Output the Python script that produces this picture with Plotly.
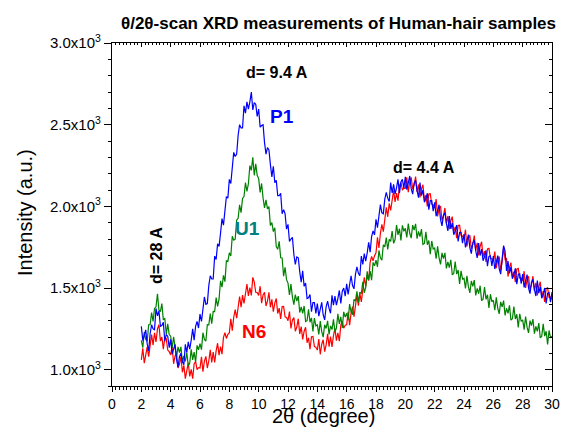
import plotly.graph_objects as go

# 2-theta grid (degree), 0.1 step from 2.0 to 30.0
two_theta = [round(2.0 + 0.1 * i, 1) for i in range(281)]

P1 = [
 1265, 1178, 1211, 1244, 1157, 1115, 1220, 1275, 1250, 1245,
 1375, 1330, 1360, 1265, 1270, 1290, 1175, 1215, 1205, 1135,
 1185, 1095, 1125, 1155, 1065, 1015, 1080, 1100, 1050, 1030,
 1155, 1105, 1170, 1125, 1180, 1250, 1180, 1265, 1295, 1255,
 1340, 1295, 1370, 1445, 1400, 1405, 1515, 1575, 1555, 1555,
 1695, 1675, 1770, 1755, 1835, 1925, 1885, 2000, 2060, 2050,
 2165, 2140, 2235, 2330, 2305, 2320, 2435, 2500, 2480, 2480,
 2615, 2570, 2640, 2595, 2640, 2700, 2590, 2635, 2625, 2550,
 2595, 2485, 2495, 2500, 2390, 2320, 2360, 2345, 2255, 2180,
 2245, 2145, 2160, 2065, 2065, 2080, 1955, 1980, 1955, 1860,
 1890, 1785, 1800, 1810, 1705, 1645, 1690, 1685, 1600, 1535,
 1605, 1510, 1530, 1435, 1440, 1460, 1355, 1410, 1410, 1345,
 1405, 1328, 1370, 1412, 1335, 1305, 1385, 1420, 1375, 1345,
 1455, 1395, 1450, 1395, 1435, 1485, 1405, 1480, 1500, 1450,
 1525, 1460, 1520, 1575, 1515, 1495, 1585, 1630, 1590, 1575,
 1695, 1645, 1710, 1665, 1715, 1780, 1720, 1815, 1850, 1825,
 1920, 1870, 1940, 2010, 1960, 1955, 2045, 2085, 2050, 2030,
 2145, 2082, 2134, 2076, 2113, 2165, 2080, 2150, 2165, 2112,
 2180, 2102, 2144, 2186, 2108, 2075, 2142, 2159, 2096, 2053,
 2145, 2065, 2100, 2025, 2045, 2080, 1980, 2035, 2035, 1970,
 2025, 1940, 1975, 2010, 1920, 1880, 1945, 1960, 1895, 1850,
 1940, 1862, 1899, 1826, 1848, 1885, 1785, 1840, 1840, 1775,
 1830, 1749, 1788, 1827, 1746, 1710, 1776, 1792, 1728, 1684,
 1775, 1699, 1738, 1667, 1691, 1730, 1634, 1693, 1697, 1636,
 1695, 1616, 1657, 1698, 1619, 1585, 1680, 1760, 1725, 1605,
 1665, 1589, 1628, 1557, 1581, 1620, 1524, 1583, 1587, 1526,
 1585, 1504, 1543, 1582, 1501, 1465, 1534, 1553, 1492, 1451,
 1545, 1469, 1508, 1437, 1461, 1500, 1406, 1467, 1473, 1414,
 1475]

N6 = [
 1060, 1130, 1040, 1105, 1140, 1080, 1135, 1215, 1150, 1225,
 1170, 1250, 1275, 1175, 1200, 1125, 1195, 1190, 1120, 1110,
 1090, 1143, 1036, 1084, 1097, 1010, 1033, 1081, 984, 1027,
 945, 1005, 1042, 959, 1002, 945, 1035, 1050, 1000, 1012,
 1010, 1079, 988, 1052, 1081, 1010, 1053, 1121, 1044, 1107,
 1045, 1115, 1162, 1089, 1141, 1095, 1198, 1226, 1191, 1216,
 1225, 1312, 1239, 1321, 1368, 1315, 1369, 1448, 1382, 1456,
 1405, 1477, 1524, 1451, 1503, 1455, 1565, 1536, 1474, 1472,
 1455, 1511, 1407, 1458, 1474, 1390, 1419, 1473, 1382, 1431,
 1355, 1408, 1436, 1344, 1377, 1310, 1386, 1387, 1323, 1319,
 1300, 1356, 1252, 1303, 1319, 1235, 1261, 1312, 1218, 1264,
 1185, 1235, 1260, 1165, 1195, 1125, 1202, 1204, 1141, 1138,
 1120, 1187, 1094, 1156, 1183, 1110, 1152, 1219, 1141, 1203,
 1140, 1209, 1253, 1177, 1226, 1175, 1273, 1296, 1254, 1272,
 1275, 1354, 1273, 1347, 1386, 1325, 1379, 1458, 1392, 1466,
 1415, 1503, 1566, 1509, 1577, 1545, 1657, 1694, 1666, 1698,
 1715, 1810, 1745, 1835, 1890, 1845, 1907, 1994, 1936, 2018,
 1975, 2049, 2098, 2027, 2081, 2035, 2128, 2146, 2099, 2112,
 2110, 2178, 2086, 2149, 2177, 2105, 2131, 2182, 2088, 2134,
 2055, 2106, 2132, 2038, 2069, 2000, 2076, 2077, 2013, 2009,
 1990, 2044, 1938, 1987, 2001, 1915, 1940, 1990, 1895, 1940,
 1860, 1911, 1937, 1843, 1874, 1805, 1882, 1884, 1821, 1818,
 1800, 1857, 1754, 1806, 1823, 1740, 1768, 1821, 1729, 1777,
 1700, 1754, 1783, 1692, 1726, 1660, 1739, 1743, 1682, 1681,
 1665, 1723, 1621, 1674, 1692, 1610, 1660, 1750, 1675, 1680,
 1570, 1625, 1655, 1565, 1600, 1535, 1615, 1620, 1560, 1560,
 1545, 1603, 1501, 1554, 1572, 1490, 1519, 1573, 1482, 1531,
 1455, 1509, 1538, 1447, 1481, 1415, 1496, 1502, 1443, 1444,
 1430]

U1 = [
 1180, 1135, 1230, 1185, 1175, 1275, 1275, 1350, 1295, 1375,
 1385, 1465, 1365, 1355, 1405, 1305, 1315, 1215, 1280, 1215,
 1205, 1133, 1201, 1124, 1077, 1140, 1105, 1140, 1045, 1085,
 1050, 1105, 1022, 1040, 1125, 1060, 1108, 1046, 1149, 1122,
 1160, 1123, 1226, 1185, 1175, 1275, 1274, 1343, 1282, 1356,
 1355, 1441, 1387, 1433, 1544, 1505, 1577, 1539, 1666, 1663,
 1715, 1696, 1817, 1793, 1799, 1915, 1927, 2009, 1961, 2048,
 2060, 2146, 2092, 2138, 2249, 2220, 2300, 2190, 2260, 2190,
 2170, 2085, 2140, 2050, 1990, 2040, 1984, 1998, 1882, 1901,
 1845, 1869, 1753, 1737, 1786, 1685, 1684, 1573, 1627, 1551,
 1530, 1457, 1524, 1446, 1398, 1460, 1420, 1450, 1350, 1385,
 1345, 1390, 1295, 1300, 1370, 1290, 1317, 1234, 1316, 1268,
 1275, 1216, 1297, 1233, 1199, 1275, 1252, 1299, 1216, 1268,
 1245, 1308, 1231, 1254, 1342, 1280, 1323, 1256, 1354, 1322,
 1345, 1303, 1401, 1354, 1337, 1430, 1420, 1480, 1410, 1475,
 1465, 1538, 1471, 1504, 1602, 1550, 1604, 1548, 1657, 1636,
 1670, 1630, 1730, 1685, 1670, 1765, 1752, 1809, 1736, 1798,
 1785, 1849, 1773, 1797, 1886, 1825, 1863, 1791, 1884, 1847,
 1865, 1810, 1895, 1835, 1805, 1885, 1854, 1893, 1802, 1846,
 1815, 1861, 1767, 1773, 1844, 1765, 1791, 1707, 1788, 1739,
 1745, 1680, 1755, 1685, 1645, 1715, 1680, 1715, 1620, 1660,
 1625, 1673, 1581, 1589, 1662, 1585, 1610, 1525, 1605, 1555,
 1560, 1498, 1575, 1508, 1470, 1543, 1510, 1548, 1455, 1498,
 1465, 1514, 1423, 1432, 1506, 1430, 1459, 1378, 1462, 1416,
 1425, 1364, 1443, 1377, 1341, 1415, 1384, 1423, 1332, 1376,
 1345, 1394, 1303, 1312, 1386, 1310, 1339, 1258, 1342, 1296,
 1305, 1245, 1325, 1260, 1225, 1300, 1270, 1310, 1220, 1265,
 1235, 1285, 1195, 1205, 1280, 1205, 1235, 1155, 1240, 1195,
 1205]

y_tickvals = [1000, 1500, 2000, 2500, 3000]
y_ticktext = ["1.0x10<sup>3</sup>", "1.5x10<sup>3</sup>", "2.0x10<sup>3</sup>",
              "2.5x10<sup>3</sup>", "3.0x10<sup>3</sup>"]

FONT = "Liberation Sans, Arial, sans-serif"

fig = go.Figure()
fig.add_trace(go.Scatter(x=two_theta, y=N6, mode="lines", name="N6",
                         line=dict(color="#FF0000", width=1.2)))
fig.add_trace(go.Scatter(x=two_theta, y=U1, mode="lines", name="U1",
                         line=dict(color="#008000", width=1.2)))
fig.add_trace(go.Scatter(x=two_theta, y=P1, mode="lines", name="P1",
                         line=dict(color="#0000FF", width=1.2)))

axis_common = dict(showline=True, linecolor="black", linewidth=1.3,
                   showgrid=False, zeroline=False, tickcolor="black")

fig.update_layout(
    width=573, height=428,
    margin=dict(l=112, r=21, t=43, b=42),
    paper_bgcolor="white", plot_bgcolor="white",
    showlegend=False,
    font=dict(family=FONT, color="black"),
    xaxis=dict(range=[0, 30], dtick=2, tick0=0, ticks="outside", ticklen=5,
               tickfont=dict(size=14, family=FONT),
               minor=dict(dtick=0.25, ticks="outside", ticklen=3, tickcolor="black"),
               **axis_common),
    yaxis=dict(range=[900, 3000], tickvals=y_tickvals, ticktext=y_ticktext,
               ticks="outside", ticklen=7,
               tickfont=dict(size=15, family=FONT),
               minor=dict(tickvals=list(range(900, 3001, 100)), ticks="outside",
                          ticklen=3, tickcolor="black"),
               **axis_common),
    xaxis2=dict(range=[0, 30], dtick=2, tick0=0, overlaying="x", side="top",
                ticks="inside", ticklen=4, showticklabels=False,
                minor=dict(dtick=0.25, ticks="inside", ticklen=2, tickcolor="black"),
                **axis_common),
    yaxis2=dict(range=[900, 3000], tickvals=y_tickvals, overlaying="y", side="right",
                ticks="inside", ticklen=7, showticklabels=False,
                minor=dict(tickvals=list(range(900, 3001, 100)), ticks="inside",
                           ticklen=3, tickcolor="black"),
                **axis_common),
)

# Empty trace so the mirrored frame axes are rendered
fig.add_trace(go.Scatter(x=[None], y=[None], xaxis="x2", yaxis="y2",
                         showlegend=False, hoverinfo="skip"))

def px_x(p):
    return (p - 112) / 440.0

def px_y(p):
    return (386 - p) / 343.0

ann = []
ann.append(dict(text="<b>θ/2θ-scan XRD measurements of Human-hair samples</b>",
                xref="paper", yref="paper", x=px_x(338), y=px_y(24),
                showarrow=False, font=dict(size=17, family=FONT, color="black"),
                xanchor="center", yanchor="middle"))
ann.append(dict(text="Intensity (a.u.)", xref="paper", yref="paper",
                x=px_x(25), y=px_y(213), textangle=-90, showarrow=False,
                font=dict(size=20, family=FONT, color="black"),
                xanchor="center", yanchor="middle"))
ann.append(dict(text="2θ (degree)", xref="paper", yref="paper",
                x=px_x(323), y=px_y(416), showarrow=False, borderpad=0,
                font=dict(size=20, family=FONT, color="black"),
                xanchor="center", yanchor="middle"))

labels = [
    ("<b>d= 9.4 A</b>", 277, 73, "black", 16, 0),
    ("<b>d= 4.4 A</b>", 424, 167, "black", 16, 0),
    ("<b>d= 28 A</b>", 156, 256, "black", 16, -90),
    ("<b>P1</b>", 282, 117, "#0000FF", 19, 0),
    ("<b>U1</b>", 247, 228, "#008080", 19, 0),
    ("<b>N6</b>", 254, 331, "#FF0000", 19, 0),
]
for t, x, y, c, s, a in labels:
    ann.append(dict(text=t, xref="paper", yref="paper", x=px_x(x), y=px_y(y),
                    showarrow=False, textangle=a,
                    font=dict(size=s, family=FONT, color=c),
                    xanchor="center", yanchor="middle"))

fig.update_layout(annotations=ann)
fig.write_html("out.html",
               config={"displayModeBar": False},
               post_script="document.body.style.margin='0px';document.body.style.padding='0px';")
